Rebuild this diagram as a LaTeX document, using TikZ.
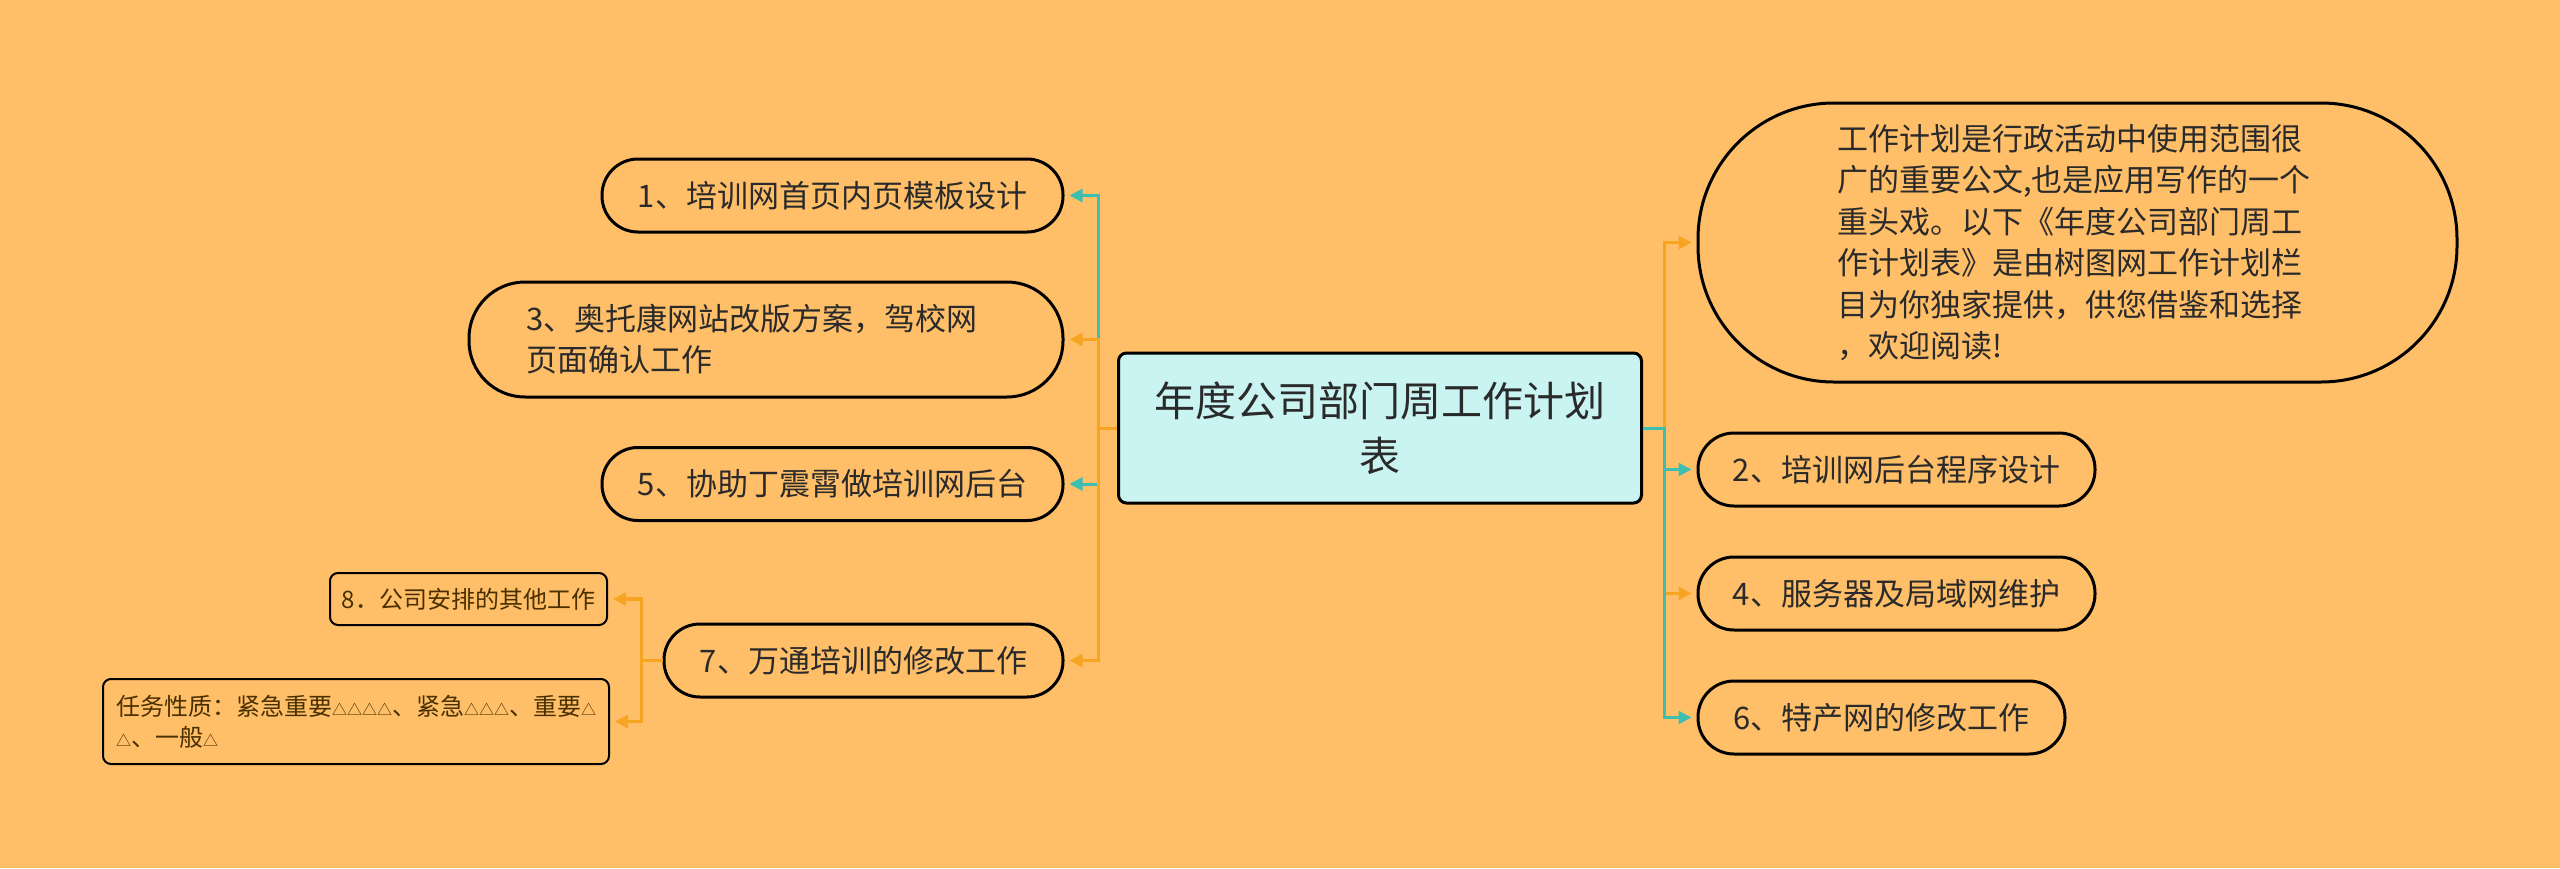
\documentclass[tikz,border=0pt]{standalone}
\usepackage{fontspec}
\setmainfont{Noto Sans CJK SC}
\usetikzlibrary{arrows.meta}
\definecolor{bg}{HTML}{FFBF69}
\definecolor{cen}{HTML}{C9F4F1}
\definecolor{tealc}{HTML}{3CBFB1}
\definecolor{orgc}{HTML}{F7A423}
\definecolor{txt}{HTML}{2A2A2A}
\definecolor{brn}{HTML}{4A3000}
\newcommand\tri{{\fontsize{15}{15}\selectfont △}}
\tikzset{
  leaf/.style={draw=black, line width=3pt, rounded corners=36pt, minimum height=73pt,
    inner sep=0pt, font=\fontsize{31}{41}\selectfont, text=txt, align=center},
  small/.style={draw=black, line width=2pt, rounded corners=8pt, inner sep=0pt,
    font=\fontsize{24}{31}\selectfont, text=brn},
  edge/.style={line width=3pt, -{Triangle[length=13pt,width=13pt]}, shorten >=5pt},
}
\begin{document}
\begin{tikzpicture}[x=1pt,y=-1pt]
\fill[bg] (0,0) rectangle (2560,868);
\useasboundingbox (0,0) rectangle (2560,868);

\node[draw=black, line width=3pt, fill=cen, rounded corners=8pt, minimum width=523pt,
  minimum height=150pt, inner sep=0pt, align=center, font=\fontsize{41}{55}\selectfont, text=txt]
  (c) at (1380,428) {年度公司部门周工作计划\\表};

% right side
\node[leaf, rounded corners=136pt, minimum width=759pt, minimum height=279pt, text width=481pt,
  align=left, font=\fontsize{31}{41.5}\selectfont] (big) at (2077.5,242.5)
  {工作计划是行政活动中使用范围很\\广的重要公文,也是应用写作的一个\\重头戏。以下《年度公司部门周工\\作计划表》是由树图网工作计划栏\\目为你独家提供，供您借鉴和选择\\，欢迎阅读!};
\node[leaf, minimum width=397pt] (r2) at (1896.5,469.5) {2、培训网后台程序设计};
\node[leaf, minimum width=397pt] (r4) at (1896.5,593.5) {4、服务器及局域网维护};
\node[leaf, minimum width=367pt] (r6) at (1881.5,717.5) {6、特产网的修改工作};

% left side
\node[leaf, minimum width=461pt] (l1) at (832.5,195.5) {1、培训网首页内页模板设计};
\node[leaf, rounded corners=56pt, minimum width=594pt, minimum height=115pt, text width=480pt,
  align=left] (l3) at (766,339.5) {3、奥托康网站改版方案，驾校网\\页面确认工作};
\node[leaf, minimum width=461pt] (l5) at (832.5,484) {5、协助丁震霄做培训网后台};
\node[leaf, minimum width=399pt] (l7) at (863.5,660.5) {7、万通培训的修改工作};

\node[small, minimum width=277pt, minimum height=52pt] (s8) at (468.5,599) {8．公司安排的其他工作};
\node[small, minimum width=506pt, minimum height=85pt, text width=480pt, align=left] (s9) at (356,721.5)
  {任务性质：紧急重要\tri\tri\tri\tri、紧急\tri\tri\tri、重要\tri\\\tri、一般\tri};

% connectors left
\draw[edge, tealc] (c.west) -- ++(-19,0) |- (l1.east);
\draw[edge, orgc] (c.west) -- ++(-19,0) |- (l3.east);
\draw[edge, tealc] (c.west) -- ++(-19,0) |- (l5.east);
\draw[edge, orgc] (c.west) -- ++(-19,0) |- (l7.east);
% connectors right
\draw[edge, orgc] (c.east) -- ++(21,0) |- (big.west);
\draw[edge, tealc] (c.east) -- ++(21,0) |- (r2.west);
\draw[edge, orgc] (c.east) -- ++(21,0) |- (r4.west);
\draw[edge, tealc] (c.east) -- ++(21,0) |- (r6.west);
% sub connectors
\draw[edge, orgc, line width=3.5pt] (l7.west) -- ++(-21,0) |- (s8.east);
\draw[edge, orgc, line width=3.5pt] (l7.west) -- ++(-21,0) |- (s9.east);
\end{tikzpicture}
\end{document}
